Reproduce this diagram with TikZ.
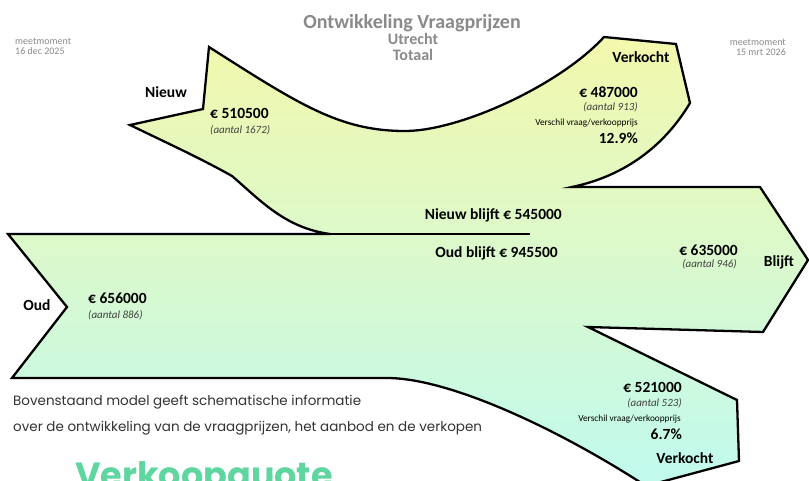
\documentclass[tikz,border=0pt]{standalone}
\usepackage{fontspec}
\setmainfont{Carlito}
\newfontfamily\capfont{Poppins}
\definecolor{cyel}{HTML}{F3F8AC}
\definecolor{cmid}{HTML}{CFF7C6}
\definecolor{ccya}{HTML}{C0FAEE}
\definecolor{ctitle}{HTML}{8A8A8A}
\definecolor{cgreen}{HTML}{5FD6A0}
\definecolor{ccap}{HTML}{333333}
\tikzset{
  lbl/.style={inner sep=0pt, font=\bfseries\fontsize{15.5}{17}\selectfont},
  cnt/.style={inner sep=0pt, font=\itshape\fontsize{11}{13}\selectfont, text=black!75},
  verschil/.style={inner sep=0pt, font=\fontsize{9.3}{11}\selectfont},
  meet/.style={inner sep=0pt, font=\fontsize{10}{9.5}\selectfont, text=ctitle, align=left},
  captext/.style={inner sep=0pt, font=\capfont\fontsize{13.5}{15}\selectfont, text=ccap, anchor=west},
  outline/.style={line width=2.3pt, line join=miter},
}
\begin{document}
\begin{tikzpicture}[x=1pt,y=-1pt]
\useasboundingbox (0,0) rectangle (809,480);
\fill[white] (0,0) rectangle (809,480);
\begin{scope}
\clip (0,0) rectangle (809,480);
% combined flow shape
\path[outline, draw=black, top color=cyel, middle color=cmid, bottom color=ccya]
  (130,125) -- (203,109) -- (209,47)
  .. controls (300,105) and (340,131) .. (405,131)
  .. controls (460,131) and (560,85) .. (604,37)
  -- (676,44) -- (690,103)
  .. controls (662,150) and (620,177) .. (572,187)
  -- (760,187) -- (808,260) -- (763,332) -- (588,327)
  -- (737,400) -- (739,461) -- (646,486)
  .. controls (560,430) and (450,378) .. (387,378)
  -- (12,378) -- (67,307) -- (8,234) -- (330,234)
  .. controls (285,228) and (260,200) .. (232,176)
  .. controls (200,158) and (165,142) .. cycle;
\coordinate (splitA) at (330,234);
\coordinate (splitB) at (530,234);
\draw[line width=2.3pt] (splitA) -- (splitB);
% big heading (cut off)
\node[inner sep=0pt, anchor=base west, text=cgreen, font=\capfont\bfseries\fontsize{35}{40}\selectfont] (vq) at (75,487) {Verkoopquote};
\end{scope}

% titles
\node[inner sep=0pt, text=ctitle, font=\bfseries\fontsize{20}{22}\selectfont] (title) at (412,23) {Ontwikkeling Vraagprijzen};
\node[inner sep=0pt, text=ctitle, font=\bfseries\fontsize{16}{17}\selectfont] (city) at (413,39) {Utrecht};
\node[inner sep=0pt, text=ctitle, font=\bfseries\fontsize{16}{17}\selectfont] (tot) at (413,55) {Totaal};
\node[meet, anchor=north west] (m1) at (15,38) {meetmoment\\16 dec 2025};
\node[meet, anchor=north east, align=right] (m2) at (786,39) {meetmoment\\15 mrt 2026};

% Nieuw
\node[lbl] (nieuw) at (166,92) {Nieuw};
\node[lbl, anchor=west] (nv) at (210,113) {€ 510500};
\node[cnt, anchor=west] (na) at (210,130) {(aantal 1672)};

% Verkocht top
\node[lbl] (vk1) at (641,57) {Verkocht};
\node[lbl, anchor=east] (vk1v) at (638,92) {€ 487000};
\node[cnt, anchor=east] (vk1a) at (638,107) {(aantal 913)};
\node[verschil, anchor=east] (vk1s) at (638,123) {Verschil vraag/verkoopprijs};
\node[lbl, anchor=east] (vk1p) at (638,138) {12.9\%};

% middle
\node[lbl, anchor=east] (nb) at (562,215) {Nieuw blijft € 545000};
\node[lbl, anchor=east] (ob) at (558,253) {Oud blijft € 945500};

% Blijft
\node[lbl, anchor=east] (bv) at (738,250) {€ 635000};
\node[cnt, anchor=east] (ba) at (737,264) {(aantal 946)};
\node[lbl] (blijft) at (779,262) {Blijft};

% Oud
\node[lbl] (oud) at (37,305) {Oud};
\node[lbl, anchor=west] (ov) at (88,298) {€ 656000};
\node[cnt, anchor=west] (oa) at (88,315) {(aantal 886)};

% Verkocht bottom
\node[lbl, anchor=east] (vk2v) at (682,387) {€ 521000};
\node[cnt, anchor=east] (vk2a) at (682,403) {(aantal 523)};
\node[verschil, anchor=east] (vk2s) at (681,419) {Verschil vraag/verkoopprijs};
\node[lbl, anchor=east] (vk2p) at (682,434) {6.7\%};
\node[lbl] (vk2) at (685,458) {Verkocht};

% caption
\node[captext] (c1) at (13,402) {Bovenstaand model geeft schematische informatie};
\node[captext] (c2) at (13,428) {over de ontwikkeling van de vraagprijzen, het aanbod en de verkopen};
\end{tikzpicture}
\end{document}
